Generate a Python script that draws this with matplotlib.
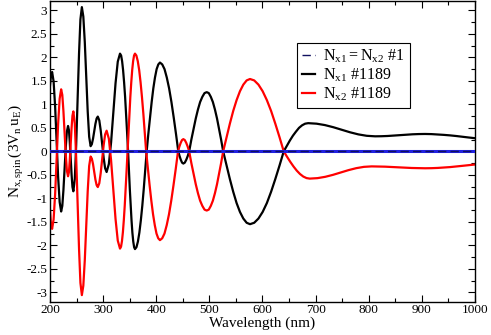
import matplotlib
matplotlib.use("Agg")
import matplotlib.pyplot as plt
from matplotlib.ticker import MultipleLocator, FormatStrFormatter

plt.rcParams['font.family'] = ['Liberation Serif', 'DejaVu Serif']
plt.rcParams['mathtext.fontset'] = 'custom'
plt.rcParams['mathtext.rm'] = 'Liberation Serif'
plt.rcParams['mathtext.it'] = 'Liberation Serif'
plt.rcParams['mathtext.default'] = 'regular'
plt.rcParams['axes.unicode_minus'] = False

# wavelength (nm) and N_x1 #1189
wl_x1 = [200, 202, 204, 206.8, 209.7, 212.5, 215.3, 218.2, 221,
         223.2, 225.3, 227.5, 229.7, 231.8, 234,
         235.7, 237.3, 239, 240.7, 242.3, 244,
         246.7, 249.3, 252, 254.7, 257.3, 260,
         262.75, 265.5, 268.25, 271, 273.75, 276.5,
         278.75, 281, 283.25, 285.5, 287.75, 290,
         292.8, 295.5, 298.3, 301.1, 303.8, 306.6,
         310.8, 315, 319.2, 323.4, 327.6, 331.8,
         333.9, 335.75, 337.6, 339.5, 341.4, 343.25, 345.1, 347,
         348.6, 350.25, 351.9, 353.5, 355.1, 356.75, 358.4, 360,
         362.75, 365.5, 368.25, 371, 373.75, 376.5, 379.25, 382,
         385.1, 388.25, 391.4, 394.5, 397.6, 400.75, 403.9, 407,
         411.3, 415.6, 419.9, 424.25, 428.6, 432.9, 437.2, 441.5,
         443.9, 446.25, 448.6, 451, 453.75, 456.5, 459.25, 462,
         466.1, 470.25, 474.4, 478.5, 482.6, 486.75, 490.9, 495,
         498.9, 502.75, 506.6, 510.5, 514.4, 518.25, 522.1, 526,
         532.3, 538.6, 544.9, 551.25, 557.6, 563.9, 570.2, 576.5,
         584.4, 592.4, 600.3, 608.25, 616.2, 624.1, 632.1, 640,
         645.75, 651.5, 657.25, 663, 668.75, 674.5, 680.25, 686,
         701.75, 717.5, 733.25, 749, 764.75, 780.5, 796.25, 812,
         823.75, 835.5, 847.25, 859, 870.75, 882.5, 894.25, 906,
         918, 929.5, 941, 953, 965, 976.5, 988, 1000]
n_x1 = [1.40, 1.62, 1.69, 1.49, 0.95, 0.205, -0.54, -1.08, -1.28,
        -1.16, -0.825, -0.37, 0.085, 0.42, 0.54,
        0.447, 0.193, -0.155, -0.50, -0.757, -0.85,
        -0.587, 0.13, 1.11, 2.09, 2.81, 3.07,
        2.87, 2.33, 1.59, 0.85, 0.31, 0.11,
        0.152, 0.268, 0.425, 0.583, 0.698, 0.74,
        0.66, 0.445, 0.15, -0.145, -0.36, -0.44,
        -0.27, 0.19, 0.82, 1.45, 1.91, 2.08,
        2.04, 1.92, 1.73, 1.47, 1.16, 0.80, 0.41, 0.0,
        -0.41, -0.80, -1.16, -1.47, -1.73, -1.92, -2.04, -2.08,
        -2.04, -1.92, -1.73, -1.47, -1.16, -0.80, -0.41, 0.0,
        0.37, 0.72, 1.05, 1.34, 1.57, 1.75, 1.85, 1.89,
        1.85, 1.75, 1.57, 1.34, 1.05, 0.72, 0.37, 0.0,
        -0.10, -0.18, -0.24, -0.26, -0.24, -0.18, -0.10, 0.0,
        0.25, 0.48, 0.70, 0.89, 1.05, 1.16, 1.24, 1.26,
        1.24, 1.16, 1.05, 0.89, 0.70, 0.48, 0.25, 0.0,
        -0.30, -0.59, -0.86, -1.10, -1.29, -1.43, -1.52, -1.55,
        -1.52, -1.43, -1.29, -1.10, -0.86, -0.59, -0.30, 0.0,
        0.117, 0.23, 0.333, 0.42, 0.50, 0.554, 0.589, 0.60,
        0.589, 0.559, 0.514, 0.46, 0.406, 0.361, 0.331, 0.32,
        0.322, 0.327, 0.335, 0.345, 0.355, 0.363, 0.368, 0.37,
        0.367, 0.36, 0.351, 0.34, 0.326, 0.31, 0.295, 0.28]

# wavelength (nm) and N_x2 #1189
wl_x2 = [200, 202, 204, 206.8, 209.7, 212.5, 215.3, 218.2, 221,
         223.2, 225.3, 227.5, 229.7, 231.8, 234,
         235.7, 237.3, 239, 240.7, 242.3, 244,
         246.7, 249.3, 252, 254.7, 257.3, 260,
         262.75, 265.5, 268.25, 271, 273.75, 276.5,
         278.75, 281, 283.25, 285.5, 287.75, 290,
         292.8, 295.5, 298.3, 301.1, 303.8, 306.6,
         310.8, 315, 319.2, 323.4, 327.6, 331.8,
         333.75, 335.5, 337.25, 339, 340.75, 342.5, 344.25, 346,
         347.75, 349.5, 351.25, 353, 354.75, 356.5, 358.25, 360,
         362.6, 365.25, 367.9, 370.5, 373.1, 375.75, 378.4, 381,
         384.25, 387.5, 390.75, 394, 397.25, 400.5, 403.75, 407,
         411.25, 415.5, 419.75, 424, 428.25, 432.5, 436.75, 441,
         443.5, 446, 448.5, 451, 453.75, 456.5, 459.25, 462,
         466.1, 470.25, 474.4, 478.5, 482.6, 486.75, 490.9, 495,
         498.9, 502.75, 506.6, 510.5, 514.4, 518.25, 522.1, 526,
         532.3, 538.6, 544.9, 551.25, 557.6, 563.9, 570.2, 576.5,
         584.4, 592.4, 600.3, 608.25, 616.2, 624.1, 632.1, 640,
         646.1, 652.25, 658.4, 664.5, 670.6, 676.75, 682.9, 689,
         703.6, 718.1, 732.7, 747.25, 761.8, 776.4, 790.9, 805.5,
         818.1, 830.6, 843.2, 855.75, 868.3, 880.9, 893.4, 906,
         918, 929.5, 941, 953, 965, 976.5, 988, 1000]
n_x2 = [-1.24, -1.58, -1.65, -1.45, -0.91, -0.165, 0.58, 1.12, 1.32,
        1.20, 0.857, 0.395, -0.067, -0.41, -0.53,
        -0.44, -0.185, 0.16, 0.505, 0.758, 0.85,
        0.59, -0.13, -1.105, -2.08, -2.80, -3.06,
        -2.86, -2.32, -1.585, -0.85, -0.31, -0.11,
        -0.154, -0.27, -0.435, -0.60, -0.717, -0.76,
        -0.68, -0.46, -0.16, 0.14, 0.36, 0.44,
        0.27, -0.19, -0.815, -1.44, -1.90, -2.07,
        -2.03, -1.91, -1.72, -1.46, -1.15, -0.79, -0.40, 0.0,
        0.41, 0.80, 1.16, 1.47, 1.73, 1.92, 2.04, 2.08,
        2.04, 1.92, 1.73, 1.47, 1.16, 0.80, 0.41, 0.0,
        -0.37, -0.72, -1.05, -1.34, -1.57, -1.75, -1.85, -1.89,
        -1.85, -1.75, -1.57, -1.34, -1.05, -0.72, -0.37, 0.0,
        0.10, 0.18, 0.24, 0.26, 0.24, 0.18, 0.10, 0.0,
        -0.25, -0.48, -0.70, -0.89, -1.05, -1.16, -1.24, -1.26,
        -1.24, -1.16, -1.05, -0.89, -0.70, -0.48, -0.25, 0.0,
        0.30, 0.59, 0.86, 1.09, 1.28, 1.42, 1.51, 1.54,
        1.51, 1.42, 1.28, 1.09, 0.86, 0.59, 0.30, 0.0,
        -0.113, -0.222, -0.322, -0.41, -0.482, -0.536, -0.569, -0.58,
        -0.570, -0.542, -0.500, -0.45, -0.400, -0.358, -0.330, -0.32,
        -0.322, -0.326, -0.332, -0.34, -0.348, -0.354, -0.358, -0.36,
        -0.358, -0.353, -0.345, -0.335, -0.322, -0.308, -0.294, -0.28]

# structure #1: N_x1 = N_x2 = 0 everywhere
wl_1 = [200, 1000]
n_1 = [0.0, 0.0]

fig = plt.figure(figsize=(4.91, 3.35), dpi=100)
ax = fig.add_axes([0.1018, 0.0994, 0.8656, 0.8976])

ax.plot(wl_1, n_1, color='#2020e0', lw=2.2, zorder=3)
ax.plot(wl_x1, n_x1, color='black', lw=1.6, solid_joinstyle='round',
        label=r'$N_{x1}$ #1189', zorder=2)
ax.plot(wl_x2, n_x2, color='#ff0000', lw=1.6, solid_joinstyle='round',
        label=r'$N_{x2}$ #1189', zorder=2)
ax.plot(wl_1, n_1, color='#101060', lw=1.0, dashes=(6, 3),
        label=r'$N_{x1} = N_{x2}$ #1', zorder=4)

ax.set_xlim(200, 1000)
ax.set_ylim(-3.2, 3.2)
ax.xaxis.set_major_locator(MultipleLocator(100))
ax.xaxis.set_minor_locator(MultipleLocator(50))
ax.yaxis.set_major_locator(MultipleLocator(0.5))
ax.yaxis.set_minor_locator(MultipleLocator(0.25))
ax.yaxis.set_major_formatter(FormatStrFormatter('%g'))
ax.tick_params(which='both', direction='in', top=True, right=True,
               labelsize=9.5, width=0.8, pad=2)
ax.tick_params(which='major', length=5)
ax.tick_params(which='minor', length=3)
for s in ax.spines.values():
    s.set_linewidth(1.0)

ax.set_xlabel('Wavelength (nm)', fontsize=11, labelpad=0)
ax.set_ylabel(r'$N_{x,spin}\,(3V_n\,u_E)$', fontsize=11, labelpad=0)

h, l = ax.get_legend_handles_labels()
order = [2, 0, 1]
leg = ax.legend([h[i] for i in order], [l[i] for i in order],
                loc='upper left', bbox_to_anchor=(0.581, 0.860),
                borderaxespad=0, fontsize=11.5, handlelength=0.85,
                handletextpad=0.5, labelspacing=0.1, borderpad=0.3,
                fancybox=False, framealpha=1)
leg.get_frame().set_edgecolor('black')
leg.get_frame().set_linewidth(0.8)

fig.savefig('out.png', dpi=100)
